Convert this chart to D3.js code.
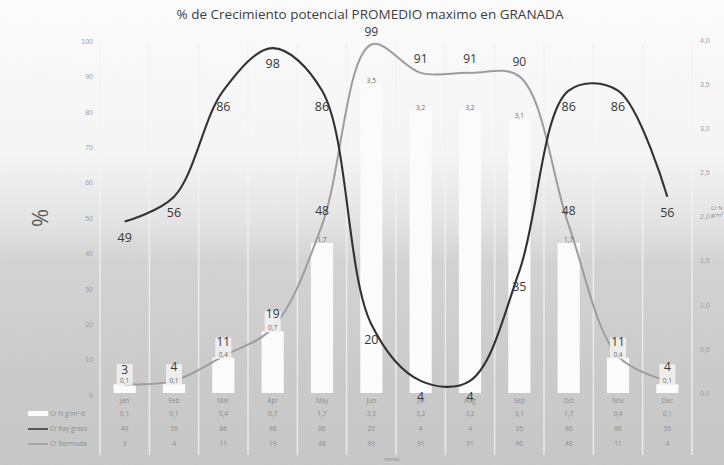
<!DOCTYPE html>
<html><head><meta charset="utf-8">
<script src="https://cdn.jsdelivr.net/npm/d3@7/dist/d3.min.js"></script>
<style>
html,body{margin:0;padding:0;background:#fff;}
svg{display:block;font-family:"Open Sans","Liberation Sans",sans-serif;}
</style></head>
<body>
<script>
const titleText = "% de Crecimiento potencial PROMEDIO maximo en GRANADA";
const months = ["Jan","Feb","Mar","Apr","May","Jun","Jul","Aug","Sep","Oct","Nov","Dec"];
const barValues = [0.1,0.1,0.4,0.7,1.7,3.5,3.2,3.2,3.1,1.7,0.4,0.1];
const ryegrass = [49,56,86,98,86,20,4,4,35,86,86,56];
const warmGrass = [3,4,11,19,48,99,91,91,90,48,11,4];
const seriesNames = ["Cr N g/m²·d","Cr Ray grass","Cr Bermuda"];
const leftTicks = [0,10,20,30,40,50,60,70,80,90,100];
const rightTicks = [0,0.5,1,1.5,2,2.5,3,3.5,4];

const W=724,H=465;
const svg = d3.select("body").append("svg").attr("width",W).attr("height",H);
const defs = svg.append("defs");
const g = defs.append("linearGradient").attr("id","bg").attr("x1",0).attr("y1",0).attr("x2",0).attr("y2",1);
[[0,"#fdfdfd"],[0.33,"#f6f6f6"],[0.48,"#e4e4e4"],[0.56,"#d4d4d4"],[0.8,"#cbcbcb"],[1,"#c7c7c7"]]
  .forEach(([o,c])=>g.append("stop").attr("offset",o).attr("stop-color",c));
const f = defs.append("filter").attr("id","noise").attr("x",0).attr("y",0).attr("width","100%").attr("height","100%");
f.append("feTurbulence").attr("type","fractalNoise").attr("baseFrequency",0.9).attr("numOctaves",2).attr("seed",3).attr("result","n");
f.append("feColorMatrix").attr("in","n").attr("type","matrix")
 .attr("values","0 0 0 0 0.5  0 0 0 0 0.5  0 0 0 0 0.5  0 0 0 0.10 0");
svg.append("rect").attr("width",W).attr("height",H).attr("fill","url(#bg)");

const x = d3.scaleBand().domain(months).range([100,692]).paddingInner(0.55).paddingOuter(0.275);
const cx = d => x(d)+x.bandwidth()/2;
const step = x.step();
const yL = d3.scaleLinear().domain([0,100]).range([395,41]);
const yR = d3.scaleLinear().domain([0,4]).range([393,40]);

// vertical light stripes at band boundaries
const bounds = months.map(m=>x(m)-x.paddingOuter()*step).concat([x(months[11])+x.bandwidth()+x.paddingOuter()*step]);
svg.append("g").selectAll("line").data(bounds).join("line")
  .attr("x1",d=>d).attr("x2",d=>d).attr("y1",45).attr("y2",455)
  .attr("stroke","#f4f4f4").attr("stroke-width",1.5).attr("opacity",0.8);

// bars
svg.append("g").selectAll("rect").data(months).join("rect")
  .attr("x",d=>x(d)).attr("width",x.bandwidth())
  .attr("y",(d,i)=>yR(barValues[i])).attr("height",(d,i)=>yR(0)-yR(barValues[i]))
  .attr("fill","#fdfdfd");

// axes
const ax = svg.append("g").attr("transform","translate(93,0)")
  .call(d3.axisLeft(yL).tickValues(leftTicks).tickSize(0).tickPadding(0));
ax.select(".domain").remove();
ax.selectAll("text").attr("fill","#a0a0a0").style("font-size","7px");
const ar = svg.append("g").attr("transform","translate(700,0)")
  .call(d3.axisRight(yR).tickValues(rightTicks).tickSize(0).tickPadding(0)
    .tickFormat(d=>d.toFixed(1).replace(".",",")));
ar.select(".domain").remove();
ar.selectAll("text").attr("fill","#a0a0a0").style("font-size","7px");

svg.append("text").attr("x",711).attr("y",210).attr("font-size",5.5).attr("fill","#888").text("Cr N");
svg.append("text").attr("x",711).attr("y",217).attr("font-size",5.5).attr("fill","#888").text("g/m²");
svg.append("text").attr("transform","translate(48,218) rotate(-90)").attr("text-anchor","middle")
  .attr("font-size",22).attr("fill","#555").text("%");

// title
svg.append("text").attr("x",370).attr("y",19).attr("text-anchor","middle")
  .attr("font-size",13.5).attr("fill","#3a3a3a").text(titleText);

// lines
const curve = d3.curveCatmullRom.alpha(0.5);
const lineL = d3.line().x((d,i)=>cx(months[i])).y(d=>yL(d)).curve(curve);
svg.append("path").attr("d",lineL(warmGrass)).attr("fill","none").attr("stroke","#9c9c9c").attr("stroke-width",2);
svg.append("path").attr("d",lineL(ryegrass)).attr("fill","none").attr("stroke","#2e2e2e").attr("stroke-width",2.1);

// bar labels
const bl = svg.append("g");
months.forEach((m,i)=>{
  const yy = yR(barValues[i])-1;
  if (barValues[i] < 1) {
    bl.append("rect").attr("x",cx(m)-8).attr("y",yy-19).attr("width",16).attr("height",21)
      .attr("fill","#f3f3f3").attr("opacity",0.9);
  }
  bl.append("text").attr("x",cx(m)).attr("y",yy).attr("text-anchor","middle")
    .attr("font-size",6.5).attr("fill","#666").text(String(barValues[i]).replace(".",","));
});
// gray line labels (above)
svg.append("g").selectAll("text").data(warmGrass).join("text")
  .attr("x",(d,i)=>cx(months[i])).attr("y",d=>Math.max(yL(d)-10, 36))
  .attr("text-anchor","middle").attr("font-size",12).attr("fill","#333").text(d=>d);
// black line labels (below)
svg.append("g").selectAll("text").data(ryegrass).join("text")
  .attr("x",(d,i)=>cx(months[i])).attr("y",d=>yL(d)+20)
  .attr("text-anchor","middle").attr("font-size",12.5).attr("fill","#333").text(d=>d);

// data table
const rowsY = [416,431,446];
const tbl = svg.append("g").attr("font-size",6.5).attr("fill","#8a8a8a");
months.forEach(m=>tbl.append("text").attr("x",cx(m)).attr("y",403).attr("text-anchor","middle").text(m));
const tableRows = [barValues.map(v=>String(v).replace(".",",")), ryegrass.map(String), warmGrass.map(String)];
tableRows.forEach((row,r)=>{
  row.forEach((v,i)=>tbl.append("text").attr("x",cx(months[i])).attr("y",rowsY[r]).attr("text-anchor","middle").text(v));
  tbl.append("text").attr("x",50).attr("y",rowsY[r]).text(seriesNames[r]);
});
svg.append("rect").attr("x",28).attr("y",rowsY[0]-5).attr("width",20).attr("height",5).attr("fill","#fdfdfd");
svg.append("line").attr("x1",28).attr("x2",48).attr("y1",rowsY[1]-2).attr("y2",rowsY[1]-2).attr("stroke","#2e2e2e").attr("stroke-width",1.5);
svg.append("line").attr("x1",28).attr("x2",48).attr("y1",rowsY[2]-2).attr("y2",rowsY[2]-2).attr("stroke","#9c9c9c").attr("stroke-width",1.5);
svg.append("text").attr("x",392).attr("y",461).attr("text-anchor","middle").attr("font-size",5).attr("fill","#888").text("meses");

// noise overlay
svg.append("rect").attr("width",W).attr("height",H).attr("filter","url(#noise)").attr("opacity",0.6);
</script>
</body></html>
